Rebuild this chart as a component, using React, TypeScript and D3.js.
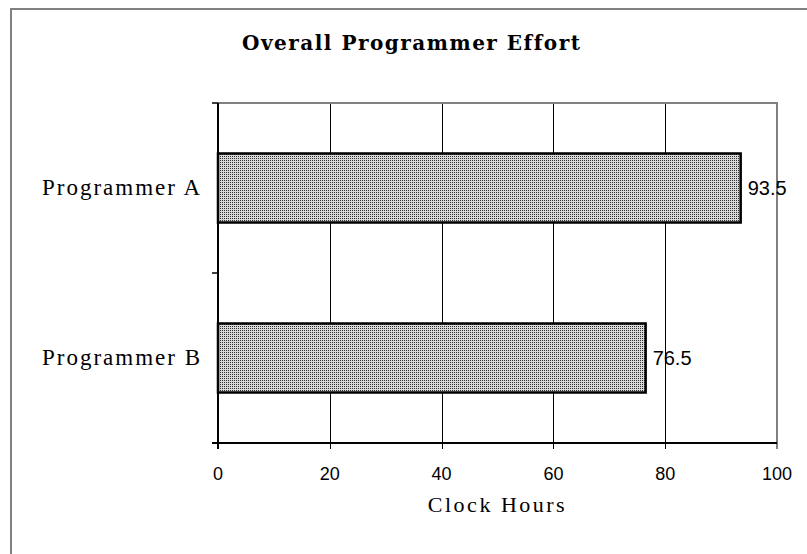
import React from 'react'
import * as d3 from 'd3'

const width = 807;
const height = 554;
const margin = { top: 103, right: 30, bottom: 111, left: 218 };

const programmers = ['Programmer A', 'Programmer B'];
const hours = [93.5, 76.5];
const xTicks = [0, 20, 40, 60, 80, 100];
const chartTitle = 'Overall Programmer Effort';
const xTitle = 'Clock Hours';

const serif = '"Liberation Serif", "Times New Roman", serif';
const sans = '"Liberation Sans", Arial, sans-serif';

export default function App() {
  const x = d3.scaleLinear().domain([0, 100]).range([margin.left, width - margin.right]);
  const y = d3.scaleBand<string>()
    .domain(programmers)
    .range([margin.top, height - margin.bottom])
    .paddingInner(0.594)
    .paddingOuter(0.297);

  const top = margin.top;
  const bottom = height - margin.bottom;
  const left = margin.left;
  const right = width - margin.right;
  // category boundaries -> small ticks on the left axis
  const catTicks = d3.range(programmers.length + 1).map(i => top + i * (bottom - top) / programmers.length);

  return (
    <svg width={width} height={height} style={{ position: 'absolute', left: 0, top: 0, background: '#fff' }}>
      <defs>
        <pattern id="dots" width="2" height="2" patternUnits="userSpaceOnUse">
          <rect width="2" height="2" fill="#d8d8d8" />
          <rect width="1" height="1" fill="#303030" />
        </pattern>
      </defs>

      {/* chart area border, runs off the right and bottom edges */}
      <rect x={11} y={9} width={900} height={700} fill="none" stroke="#808080" strokeWidth={2} />

      <text x={242} y={50} fontFamily='"DejaVu Serif", serif' fontWeight="bold" fontSize={20} letterSpacing={1.5}>
        {chartTitle}
      </text>

      {/* grid */}
      {xTicks.slice(1, -1).map(t => (
        <line key={t} x1={Math.round(x(t)) + 0.5} x2={Math.round(x(t)) + 0.5} y1={top} y2={bottom + 6}
          stroke="#000" strokeWidth={1} />
      ))}

      {/* plot area top + right border */}
      <path d={`M${left},${top}H${right}V${bottom}`} fill="none" stroke="#808080" strokeWidth={2} />

      {/* bars */}
      {programmers.map((p, i) => (
        <rect key={p} x={x(0)} y={y(p)} width={x(hours[i]) - x(0)} height={y.bandwidth()}
          fill="url(#dots)" stroke="#000" strokeWidth={2.5} />
      ))}

      {/* value labels */}
      {programmers.map((p, i) => (
        <text key={p} x={x(hours[i]) + 7} y={(y(p) as number) + y.bandwidth() / 2 + 7}
          fontFamily={sans} fontSize={20}>
          {hours[i]}
        </text>
      ))}

      {/* axes */}
      <line x1={left} x2={left} y1={top} y2={bottom + 6} stroke="#000" strokeWidth={2} />
      <line x1={left - 6} x2={right} y1={bottom} y2={bottom} stroke="#000" strokeWidth={2} />
      {catTicks.map((t, i) => (
        <line key={i} x1={left - 6} x2={left} y1={t} y2={t} stroke="#000" strokeWidth={1.5} />
      ))}
      <line x1={right} x2={right} y1={bottom} y2={bottom + 6} stroke="#000" strokeWidth={1} />

      {/* x tick labels */}
      {xTicks.map(t => (
        <text key={t} x={x(t)} y={480} textAnchor="middle" fontFamily={sans} fontSize={18}>
          {t}
        </text>
      ))}

      {/* category labels */}
      {programmers.map(p => (
        <text key={p} x={left - 16} y={(y(p) as number) + y.bandwidth() / 2 + 7} textAnchor="end"
          fontFamily={serif} fontSize={23} letterSpacing={2}>
          {p}
        </text>
      ))}

      <text x={(left + right) / 2} y={512} textAnchor="middle" fontFamily={serif} fontSize={22} letterSpacing={2.5}>
        {xTitle}
      </text>
    </svg>
  )
}
